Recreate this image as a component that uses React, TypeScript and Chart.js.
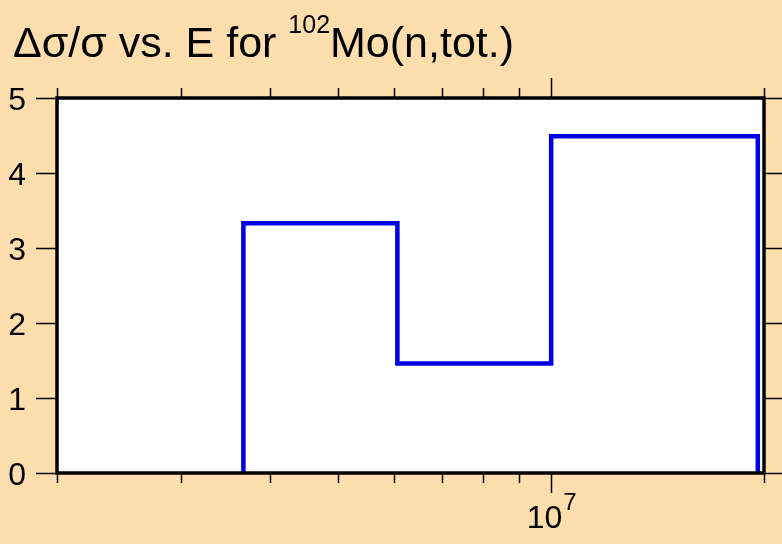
import React, { useEffect, useRef } from "react";
import { Chart, registerables } from "chart.js";

Chart.register(...registerables);

// ---- data ----
const BIN_EDGES = [3.67e6, 6.06e6, 1.0e7, 1.96e7];
const BIN_VALUES = [3.33, 1.46, 4.49];
const Y_TICKS = [0, 1, 2, 3, 4, 5];
const X_MINOR_TICKS = [2e6, 3e6, 4e6, 5e6, 6e6, 7e6, 8e6, 9e6, 2e7];
const X_MAJOR_TICKS = [1e7];
const X_MAJOR_BASES = ["10"];
const X_MAJOR_EXPS = ["7"];
const X_RANGE = [2e6, 2e7];
const Y_RANGE = [0, 5];
const TITLE_PRE = "\u0394\u03c3/\u03c3 vs. E for ";
const TITLE_SUP = "102";
const TITLE_POST = "Mo(n,tot.)";

const BG = "#FFDEAD";
const LINE = "#0000e6";
const FONT = '"Liberation Sans", Arial, Helvetica, sans-serif';

function buildPoints() {
  const pts: { x: number; y: number }[] = [{ x: BIN_EDGES[0], y: 0 }];
  for (let i = 0; i < BIN_VALUES.length; i++) {
    pts.push({ x: BIN_EDGES[i], y: BIN_VALUES[i] });
    pts.push({ x: BIN_EDGES[i + 1], y: BIN_VALUES[i] });
  }
  pts.push({ x: BIN_EDGES[BIN_EDGES.length - 1], y: 0 });
  return pts;
}

const framePlugin = {
  id: "frame",
  beforeDatasetsDraw(chart: any) {
    const { ctx, chartArea: a } = chart;
    ctx.save();
    ctx.fillStyle = "#ffffff";
    ctx.fillRect(a.left, a.top, a.right - a.left, a.bottom - a.top);
    ctx.restore();
  },
  afterDatasetsDraw(chart: any) {
    const { ctx, chartArea: a } = chart;
    const xs = chart.scales.x;
    const ys = chart.scales.y;
    ctx.save();
    // border
    ctx.strokeStyle = "#000";
    ctx.lineWidth = 3.5;
    ctx.strokeRect(a.left, a.top, a.right - a.left, a.bottom - a.top);

    // ticks
    ctx.lineWidth = 1.5;
    ctx.beginPath();
    for (const v of Y_TICKS) {
      const y = Math.round(ys.getPixelForValue(v)) + 0.5;
      ctx.moveTo(a.left - 21, y);
      ctx.lineTo(a.left, y);
      ctx.moveTo(a.right, y);
      ctx.lineTo(a.right + 21, y);
    }
    for (const v of X_MINOR_TICKS) {
      const x = Math.round(xs.getPixelForValue(v)) + 0.5;
      ctx.moveTo(x, a.bottom);
      ctx.lineTo(x, a.bottom + 10);
      ctx.moveTo(x, a.top);
      ctx.lineTo(x, a.top - 10);
    }
    for (const v of X_MAJOR_TICKS) {
      const x = Math.round(xs.getPixelForValue(v)) + 0.5;
      ctx.moveTo(x, a.bottom);
      ctx.lineTo(x, a.bottom + 20);
      ctx.moveTo(x, a.top);
      ctx.lineTo(x, a.top - 20);
    }
    ctx.stroke();

    // y labels
    ctx.fillStyle = "#000";
    ctx.font = `32px ${FONT}`;
    ctx.textAlign = "right";
    ctx.textBaseline = "alphabetic";
    for (const v of Y_TICKS) {
      const y = ys.getPixelForValue(v);
      ctx.fillText(String(v), a.left - 31, y + 12);
    }

    // x labels (power of ten)
    X_MAJOR_TICKS.forEach((v, i) => {
      const x = xs.getPixelForValue(v);
      ctx.font = `32px ${FONT}`;
      const wb = ctx.measureText(X_MAJOR_BASES[i]).width;
      ctx.font = `24px ${FONT}`;
      const we = ctx.measureText(X_MAJOR_EXPS[i]).width;
      const x0 = x - (wb + we) / 2;
      ctx.textAlign = "left";
      ctx.font = `32px ${FONT}`;
      ctx.fillText(X_MAJOR_BASES[i], x0, a.bottom + 55);
      ctx.font = `24px ${FONT}`;
      ctx.fillText(X_MAJOR_EXPS[i], x0 + wb + 1, a.bottom + 37);
    });

    // title
    ctx.textAlign = "left";
    let tx = 13;
    ctx.font = `43px ${FONT}`;
    ctx.fillText(TITLE_PRE, tx, 57);
    tx += ctx.measureText(TITLE_PRE).width;
    ctx.font = `25px ${FONT}`;
    ctx.fillText(TITLE_SUP, tx, 33);
    tx += ctx.measureText(TITLE_SUP).width;
    ctx.font = `43px ${FONT}`;
    ctx.fillText(TITLE_POST, tx, 57);
    ctx.restore();
  },
};

export default function App() {
  const ref = useRef<HTMLCanvasElement | null>(null);
  useEffect(() => {
    if (!ref.current) return;
    const chart = new Chart(ref.current, {
      type: "line",
      data: {
        datasets: [
          {
            data: buildPoints(),
            borderColor: LINE,
            borderWidth: 4.5,
            pointRadius: 0,
            fill: false,
            tension: 0,
            borderJoinStyle: "miter",
            borderCapStyle: "butt",
          },
        ],
      },
      options: {
        animation: false,
        responsive: false,
        devicePixelRatio: 1,
        layout: { padding: { left: 57, top: 98, right: 18, bottom: 71 } },
        plugins: { legend: { display: false }, title: { display: false }, tooltip: { enabled: false } },
        events: [],
        scales: {
          x: { type: "logarithmic", min: X_RANGE[0], max: X_RANGE[1], display: false },
          y: { type: "linear", min: Y_RANGE[0], max: Y_RANGE[1], display: false },
        },
      },
      plugins: [framePlugin],
    });
    return () => chart.destroy();
  }, []);
  return (
    <div style={{ position: "absolute", left: 0, top: 0, width: 782, height: 544, background: BG, overflow: "hidden" }}>
      <canvas ref={ref} width={782} height={544} style={{ display: "block", width: 782, height: 544 }} />
    </div>
  );
}
